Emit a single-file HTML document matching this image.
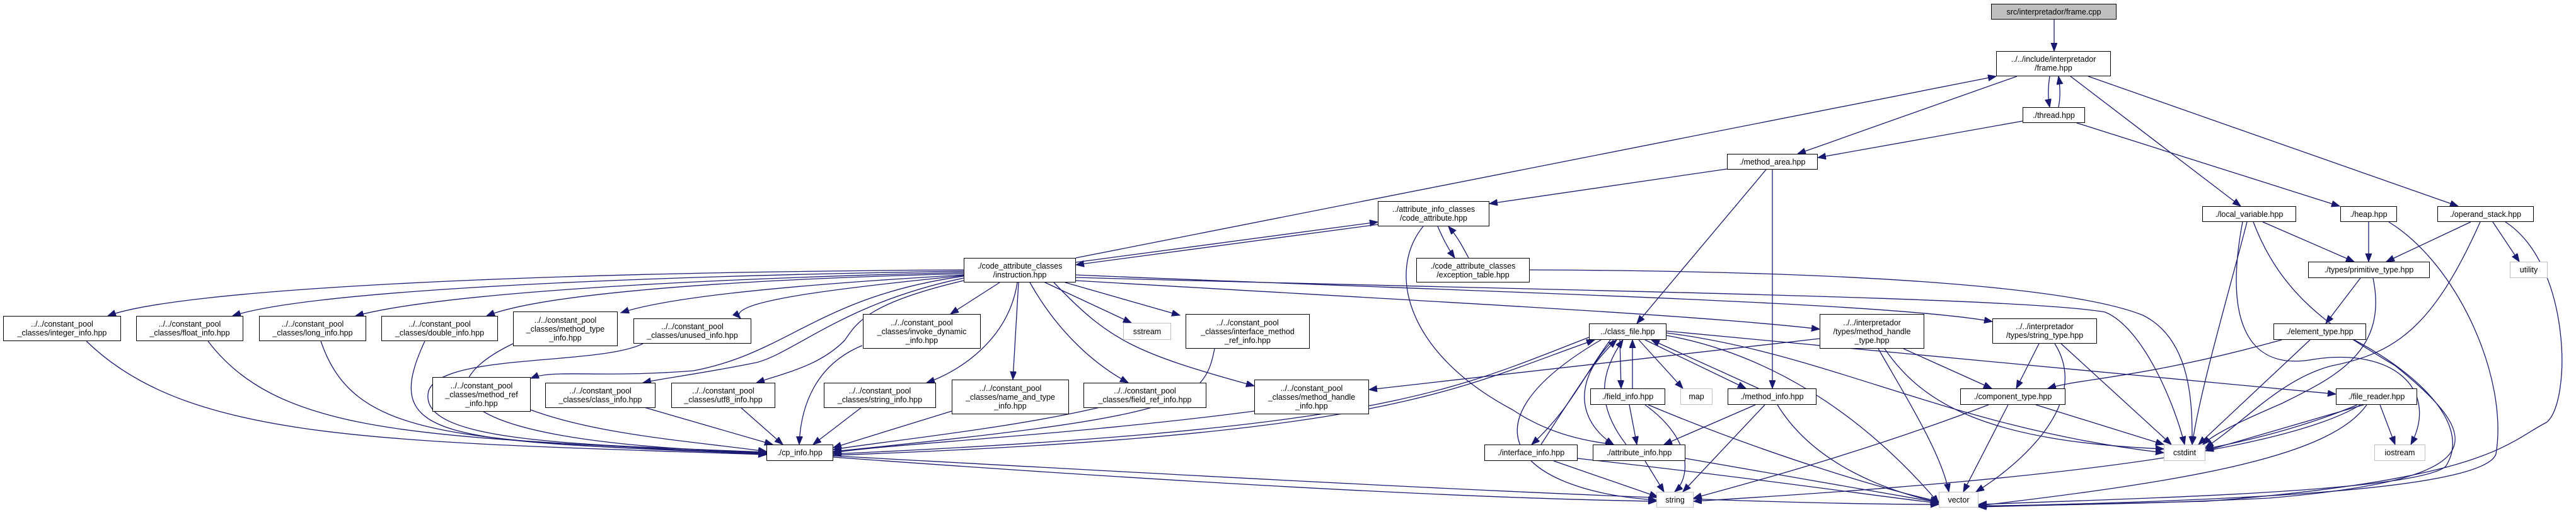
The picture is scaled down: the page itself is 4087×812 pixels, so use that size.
<!DOCTYPE html>
<html><head><meta charset="utf-8"><style>
html,body{margin:0;padding:0;background:#fff;}
#c{position:relative;width:4087px;height:812px;overflow:hidden;background:#fff;}
.n{position:absolute;box-sizing:border-box;border:1.5px solid #000;background:#fff;display:flex;align-items:center;justify-content:center;text-align:center;font-family:"Liberation Sans",sans-serif;font-size:12.5px;line-height:14px;color:#000;white-space:nowrap;}
.g{border-color:#bfbfbf;}
.f{background:#bfbfbf;}
svg{position:absolute;left:0;top:0;}
path{fill:none;stroke:#191970;stroke-width:1.3;}
</style></head><body><div id="c">
<svg width="4087" height="812" viewBox="0 0 4087 812">
<defs><marker id="a" markerUnits="userSpaceOnUse" markerWidth="14" markerHeight="12" refX="13" refY="5" orient="auto"><path d="M0,0 L13,5 L0,10 Z" style="fill:#191970;stroke:#191970;stroke-width:1"/></marker></defs>
<g marker-end="url(#a)">
<path d="M3259,31 L3259,81"/>
<path d="M3252,121 C3249,140 3249,155 3252,170"/>
<path d="M3266,170 C3269,155 3269,140 3266,121"/>
<path d="M3200,121 L2852,244"/>
<path d="M3209,192 L2884,250"/>
<path d="M3285,121 L3555,327"/>
<path d="M3313,121 L3900,327"/>
<path d="M3295,195 L3712,327"/>
<path d="M1707,409 L3167,121"/>
<path d="M1707,416 L2186,352"/>
<path d="M2186,356 L1707,420"/>
<path d="M2740,268 L2363,323"/>
<path d="M2802,269 L2597,513"/>
<path d="M2812,269 L2812,616"/>
<path d="M2281,359 C2290,380 2298,395 2308,409"/>
<path d="M2330,409 C2320,390 2312,375 2298,359"/>
<path d="M2258,359 C2200,430 2230,560 2400,650 C2460,690 2520,700 2560,705"/>
<path d="M2427,428 C3000,430 3300,460 3400,500 C3480,540 3478,650 3478,705"/>
<path d="M1707,440 C2400,460 3200,470 3340,495 C3400,520 3450,640 3466,705"/>
<path d="M1707,436 C2400,465 3000,480 3161,510"/>
<path d="M1707,445 C2300,480 2700,500 2887,522"/>
<path d="M1672,448 C1760,540 1800,560 1990,612"/>
<path d="M1658,448 L1795,512"/>
<path d="M1690,448 L1872,500"/>
<path d="M1634,448 C1680,530 1740,580 1790,607"/>
<path d="M1616,448 L1607,602"/>
<path d="M1614,448 C1600,540 1520,590 1470,607"/>
<path d="M1586,448 L1508,498"/>
<path d="M1529,445 C1380,480 1360,510 1340,540 C1300,580 1250,590 1200,607"/>
<path d="M1529,441 C1340,480 1260,560 1200,575 C1100,595 1050,600 1020,607"/>
<path d="M1529,438 C1300,470 1250,560 1100,588 C950,600 880,585 842,600"/>
<path d="M1529,437 C1300,460 1150,480 1175,505"/>
<path d="M1529,436 C1200,455 1050,475 985,496"/>
<path d="M1529,434 C1100,445 850,470 772,501"/>
<path d="M1529,432 C1000,445 680,470 564,501"/>
<path d="M1529,430 C900,440 480,465 369,501"/>
<path d="M1529,428 C800,432 280,460 171,501"/>
<path d="M137,541 C300,700 600,700 1216,721"/>
<path d="M330,541 C450,700 700,690 1216,721"/>
<path d="M509,541 C560,690 700,700 1216,720"/>
<path d="M674,541 C600,700 700,700 1216,719"/>
<path d="M814,545 C700,600 640,700 1216,718"/>
<path d="M1020,545 C950,580 700,560 680,620 C660,700 900,705 1216,717"/>
<path d="M842,650 C950,690 1100,700 1216,716"/>
<path d="M1022,646 L1226,705"/>
<path d="M1175,646 L1242,705"/>
<path d="M1367,646 L1290,705"/>
<path d="M1510,652 L1322,710"/>
<path d="M1745,646 C1600,680 1400,700 1322,713"/>
<path d="M1368,548 C1290,580 1270,650 1268,705"/>
<path d="M1927,553 C1910,640 1880,660 1322,716"/>
<path d="M1990,652 C1700,690 1400,705 1322,718"/>
<path d="M1322,722 C2200,690 2300,620 2530,539"/>
<path d="M2521,535 C2300,620 2200,680 1322,720"/>
<path d="M1322,725 C1800,760 2300,790 2628,795"/>
<path d="M1322,723 C2000,760 2700,800 3076,800"/>
<path d="M2570,539 L2572,616"/>
<path d="M2590,616 L2590,539"/>
<path d="M2600,539 L2670,616"/>
<path d="M2610,539 L2770,616"/>
<path d="M2790,616 L2620,539"/>
<path d="M2555,539 C2510,600 2490,650 2430,705"/>
<path d="M2445,705 C2500,620 2530,570 2565,539"/>
<path d="M2560,539 C2480,620 2520,680 2560,705"/>
<path d="M2580,705 C2530,640 2540,590 2575,539"/>
<path d="M2540,539 C2300,680 2420,780 2628,793"/>
<path d="M2644,532 C2800,560 2950,650 3076,798"/>
<path d="M2644,528 C2900,560 3100,680 3433,718"/>
<path d="M2644,525 L3706,625"/>
<path d="M2887,537 L2172,618"/>
<path d="M2585,642 L2597,705"/>
<path d="M2610,642 C2690,700 2680,760 2657,780"/>
<path d="M2615,642 C2800,720 3000,780 3076,795"/>
<path d="M2785,642 L2640,705"/>
<path d="M2800,642 L2670,780"/>
<path d="M2820,642 C2880,740 3000,780 3076,797"/>
<path d="M2465,731 L2630,788"/>
<path d="M2503,727 C2800,760 3000,790 3076,798"/>
<path d="M2610,731 L2640,780"/>
<path d="M2674,727 L3076,797"/>
<path d="M3020,553 L3160,616"/>
<path d="M2980,553 C3030,640 3080,720 3092,780"/>
<path d="M2990,553 C3050,640 3150,700 3433,712"/>
<path d="M3235,545 L3199,616"/>
<path d="M3270,545 L3445,705"/>
<path d="M3260,545 C3320,640 3200,740 3135,780"/>
<path d="M3230,642 L3433,705"/>
<path d="M3186,642 L3115,780"/>
<path d="M3155,642 C2950,720 2760,770 2687,790"/>
<path d="M3620,539 C3400,600 3300,600 3249,616"/>
<path d="M3665,539 L3488,705"/>
<path d="M3735,539 C3850,600 3920,680 3880,740 C3830,780 3400,790 3139,800"/>
<path d="M3745,441 L3690,513"/>
<path d="M3765,441 C3790,560 3700,600 3620,640 C3550,670 3510,690 3495,705"/>
<path d="M3590,352 L3735,415"/>
<path d="M3565,352 C3540,450 3490,620 3478,705"/>
<path d="M3575,352 C3620,470 3700,520 3800,580 C3950,700 3950,760 3600,790 C3400,800 3200,802 3139,802"/>
<path d="M3558,352 C3530,500 3560,590 3670,570 C3800,550 3870,620 3825,705"/>
<path d="M3758,352 L3758,415"/>
<path d="M3790,352 C3900,420 3980,600 3960,720 C3940,780 3500,795 3139,803"/>
<path d="M3920,352 L3786,415"/>
<path d="M3955,352 L3997,415"/>
<path d="M3935,352 C3860,520 3800,560 3700,580 C3620,600 3560,670 3499,710"/>
<path d="M3975,352 C4080,420 4080,640 4040,670 C3980,700 3950,760 3500,795 L3139,804"/>
<path d="M3750,642 L3499,715"/>
<path d="M3740,642 C3650,680 3560,700 3499,712"/>
<path d="M3776,642 L3800,705"/>
<path d="M3755,642 C3700,720 3500,760 3139,802"/>
<path d="M3745,642 C3600,730 3100,770 2687,795"/>
</g>
</svg>
<div class="n f" style="left:3159px;top:6px;width:199px;height:25px">src/interpretador/frame.cpp</div>
<div class="n" style="left:3167px;top:81px;width:182px;height:40px">../../include/interpretador<br>/frame.hpp</div>
<div class="n" style="left:3209px;top:170px;width:99px;height:25px">./thread.hpp</div>
<div class="n" style="left:2740px;top:244px;width:144px;height:25px">./method_area.hpp</div>
<div class="n" style="left:2186px;top:319px;width:177px;height:40px">../attribute_info_classes<br>/code_attribute.hpp</div>
<div class="n" style="left:1529px;top:409px;width:178px;height:39px">./code_attribute_classes<br>/instruction.hpp</div>
<div class="n" style="left:2247px;top:409px;width:180px;height:39px">./code_attribute_classes<br>/exception_table.hpp</div>
<div class="n" style="left:3494px;top:327px;width:149px;height:25px">./local_variable.hpp</div>
<div class="n" style="left:3713px;top:327px;width:90px;height:25px">./heap.hpp</div>
<div class="n" style="left:3867px;top:327px;width:153px;height:25px">./operand_stack.hpp</div>
<div class="n" style="left:3662px;top:415px;width:193px;height:26px">./types/primitive_type.hpp</div>
<div class="n g" style="left:3982px;top:415px;width:60px;height:26px">utility</div>
<div class="n" style="left:3607px;top:513px;width:147px;height:26px">./element_type.hpp</div>
<div class="n" style="left:3161px;top:505px;width:166px;height:40px">../../interpretador<br>/types/string_type.hpp</div>
<div class="n" style="left:2887px;top:498px;width:166px;height:55px">../../interpretador<br>/types/method_handle<br>_type.hpp</div>
<div class="n" style="left:3110px;top:616px;width:167px;height:26px">./component_type.hpp</div>
<div class="n" style="left:3706px;top:616px;width:129px;height:26px">./file_reader.hpp</div>
<div class="n g" style="left:3433px;top:705px;width:66px;height:26px">cstdint</div>
<div class="n g" style="left:3767px;top:705px;width:81px;height:26px">iostream</div>
<div class="n g" style="left:3076px;top:780px;width:63px;height:25px">vector</div>
<div class="n" style="left:2521px;top:513px;width:123px;height:26px">../class_file.hpp</div>
<div class="n" style="left:1990px;top:602px;width:182px;height:55px">../../constant_pool<br>_classes/method_handle<br>_info.hpp</div>
<div class="n" style="left:2523px;top:616px;width:119px;height:26px">./field_info.hpp</div>
<div class="n g" style="left:2666px;top:616px;width:51px;height:26px">map</div>
<div class="n" style="left:2741px;top:616px;width:141px;height:26px">./method_info.hpp</div>
<div class="n" style="left:2355px;top:705px;width:148px;height:26px">./interface_info.hpp</div>
<div class="n" style="left:2527px;top:705px;width:147px;height:26px">./attribute_info.hpp</div>
<div class="n g" style="left:2628px;top:780px;width:59px;height:25px">string</div>
<div class="n" style="left:5px;top:501px;width:187px;height:40px">../../constant_pool<br>_classes/integer_info.hpp</div>
<div class="n" style="left:216px;top:501px;width:170px;height:40px">../../constant_pool<br>_classes/float_info.hpp</div>
<div class="n" style="left:411px;top:501px;width:170px;height:40px">../../constant_pool<br>_classes/long_info.hpp</div>
<div class="n" style="left:605px;top:501px;width:185px;height:40px">../../constant_pool<br>_classes/double_info.hpp</div>
<div class="n" style="left:814px;top:494px;width:166px;height:55px">../../constant_pool<br>_classes/method_type<br>_info.hpp</div>
<div class="n" style="left:1005px;top:505px;width:187px;height:40px">../../constant_pool<br>_classes/unused_info.hpp</div>
<div class="n" style="left:1369px;top:498px;width:187px;height:55px">../../constant_pool<br>_classes/invoke_dynamic<br>_info.hpp</div>
<div class="n g" style="left:1782px;top:512px;width:76px;height:27px">sstream</div>
<div class="n" style="left:1881px;top:498px;width:197px;height:55px">../../constant_pool<br>_classes/interface_method<br>_ref_info.hpp</div>
<div class="n" style="left:686px;top:598px;width:156px;height:55px">../../constant_pool<br>_classes/method_ref<br>_info.hpp</div>
<div class="n" style="left:865px;top:607px;width:175px;height:40px">../../constant_pool<br>_classes/class_info.hpp</div>
<div class="n" style="left:1065px;top:607px;width:165px;height:40px">../../constant_pool<br>_classes/utf8_info.hpp</div>
<div class="n" style="left:1307px;top:607px;width:178px;height:40px">../../constant_pool<br>_classes/string_info.hpp</div>
<div class="n" style="left:1510px;top:602px;width:186px;height:55px">../../constant_pool<br>_classes/name_and_type<br>_info.hpp</div>
<div class="n" style="left:1719px;top:607px;width:195px;height:40px">../../constant_pool<br>_classes/field_ref_info.hpp</div>
<div class="n" style="left:1216px;top:705px;width:106px;height:26px">./cp_info.hpp</div>
</div></body></html>
